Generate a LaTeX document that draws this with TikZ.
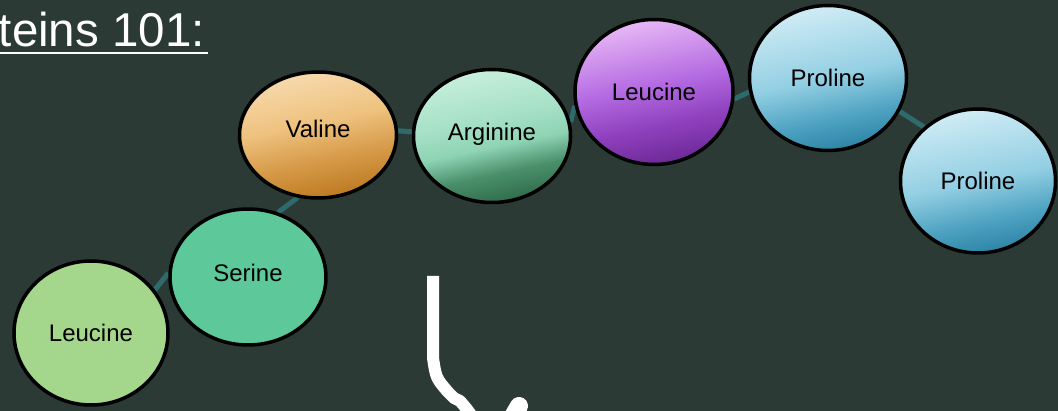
\documentclass[tikz,border=0pt]{standalone}
\usepackage{fontspec}
\setmainfont{Liberation Sans}
\usetikzlibrary{shapes.geometric}
\pgfdeclarelayer{backdrop}
\pgfdeclarelayer{bonds}
\pgfsetlayers{backdrop,bonds,main}
\definecolor{board}{HTML}{2C3A35}
\definecolor{bondteal}{HTML}{2F6A6C}
\definecolor{leugreen}{HTML}{A4D78B}
\definecolor{sergreen}{HTML}{5DC99B}
\definecolor{valtop}{HTML}{F7DAAE}
\definecolor{valhi}{HTML}{EEC27F}
\definecolor{valmid}{HTML}{D69A48}
\definecolor{valbot}{HTML}{BC7920}
\definecolor{argtop}{HTML}{C8EFDD}
\definecolor{arghi}{HTML}{A5E0C5}
\definecolor{argmid}{HTML}{8ED3B4}
\definecolor{argdark}{HTML}{4A8F6A}
\definecolor{argbot}{HTML}{2F6B4B}
\definecolor{purtop}{HTML}{E8B8F6}
\definecolor{purmid}{HTML}{B369E1}
\definecolor{purdark}{HTML}{8E40BC}
\definecolor{purbot}{HTML}{6C2897}
\definecolor{protop}{HTML}{D0ECF5}
\definecolor{promid}{HTML}{93CFE3}
\definecolor{prodark}{HTML}{4FA3C2}
\definecolor{probot}{HTML}{2C84A5}
\pgfdeclareverticalshading{valshade}{100bp}{color(0bp)=(valbot); color(25bp)=(valbot); color(40bp)=(valmid); color(55bp)=(valhi); color(75bp)=(valtop); color(100bp)=(valtop)}
\pgfdeclareverticalshading{argshade}{100bp}{color(0bp)=(argbot); color(25bp)=(argbot); color(36bp)=(argdark); color(46bp)=(argmid); color(56bp)=(arghi); color(75bp)=(argtop); color(100bp)=(argtop)}
\pgfdeclareverticalshading{purshade}{100bp}{color(0bp)=(purbot); color(25bp)=(purbot); color(38bp)=(purdark); color(52bp)=(purmid); color(75bp)=(purtop); color(100bp)=(purtop)}
\pgfdeclareverticalshading{proshade}{100bp}{color(0bp)=(probot); color(25bp)=(probot); color(36bp)=(prodark); color(50bp)=(promid); color(75bp)=(protop); color(100bp)=(protop)}
\tikzset{
  acid/.style={ellipse, draw=black, line width=3.5pt, inner sep=0pt, font=\fontsize{24}{28}\selectfont},
  tilted/.style={shading=#1, shading angle=12},
  bond/.style={draw=bondteal, line width=5pt},
  scribble/.style={draw=white, line width=12pt, line join=round},
}

\begin{document}
\begin{tikzpicture}[x=1pt, y=-1pt]
    \begin{pgfonlayer}{backdrop}
      \fill[board] (0,0) rectangle (1058,411);
    \end{pgfonlayer}
    \useasboundingbox (0,0) rectangle (1058,411);
    \clip (0,0) rectangle (1058,411);
    % title, cut off at the left edge
    \node[anchor=base east, inner sep=0pt, text=white, font=\fontsize{47.5}{56}\selectfont] (title) at (205,47) {teins 101:};
    \draw[white, line width=2.5pt] (0,53) -- (208,53);
    % the chain
    \node[acid, minimum width=154pt, minimum height=144pt, fill=leugreen] (leu1) at (91,333) {Leucine};
    \node[acid, minimum width=156pt, minimum height=136pt, fill=sergreen] (ser) at (248,277) {\raisebox{8pt}{Serine}};
    \node[acid, minimum width=157pt, minimum height=126pt, tilted=valshade] (val) at (318,135) {\raisebox{12pt}{Valine}};
    \node[acid, minimum width=157pt, minimum height=133pt, tilted=argshade] (arg) at (492,136) {\raisebox{8pt}{Arginine}};
    \node[acid, minimum width=158pt, minimum height=145pt, tilted=purshade] (leu2) at (654,92) {Leucine};
    \node[acid, minimum width=157pt, minimum height=145pt, tilted=proshade] (pro1) at (828,78) {Proline};
    \node[acid, minimum width=155pt, minimum height=144pt, tilted=proshade] (pro2) at (978,181) {Proline};
    % bonds, under the circles
    \begin{pgfonlayer}{bonds}
      \draw[bond] (leu1.34) -- (ser.177);
      \draw[bond] (ser.65) -- (val.252);
      \draw[bond] (val.3) -- (arg.177);
      \draw[bond] (arg.10) -- (leu2.190);
      \draw[bond] (leu2.-5) -- (pro1.190);
      \draw[bond] (pro1.-25) -- (pro2.135);
    \end{pgfonlayer}
    % hand-drawn arrow
    \draw[scribble] (433,276) -- (433,358) .. controls (436,378) .. (448,392)
      -- (454,398) -- (460,401) -- (466,408) -- (472,416);
    \draw[white, line width=18pt, line cap=round] (512,418) -- (519,406);
\end{tikzpicture}
\end{document}
